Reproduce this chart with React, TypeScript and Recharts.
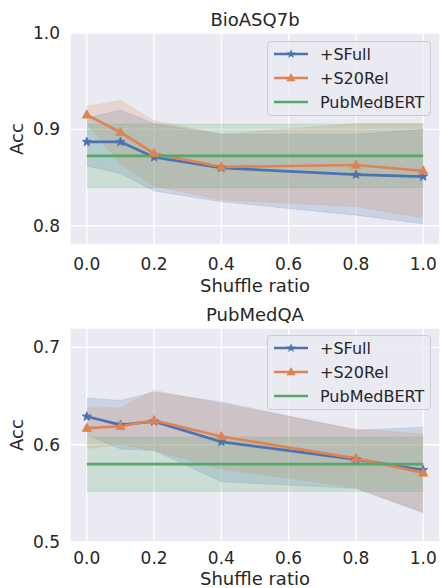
import React from 'react';
import {
  Area,
  CartesianGrid,
  ComposedChart,
  Legend,
  Line,
  XAxis,
  YAxis,
} from 'recharts';

// shuffle ratios on the x axis
const shuffleRatios = [0, 0.1, 0.2, 0.4, 0.8, 1.0];
const xTicks = [0, 0.2, 0.4, 0.6, 0.8, 1.0];

// BioASQ7b
const bioSFullMean = [0.887, 0.887, 0.871, 0.86, 0.853, 0.851];
const bioSFullStd = [0.025, 0.033, 0.035, 0.035, 0.042, 0.049];
const bioS20RelMean = [0.915, 0.897, 0.875, 0.861, 0.863, 0.857];
const bioS20RelStd = [0.009, 0.033, 0.034, 0.034, 0.043, 0.049];
const bioBaseMean = 0.8725;
const bioBaseStd = 0.033;
const bioYTicks = [0.8, 0.9, 1.0];

// PubMedQA
const pqaSFullMean = [0.629, 0.6205, 0.624, 0.603, 0.585, 0.574];
const pqaSFullStd = [0.019, 0.025, 0.03, 0.041, 0.03, 0.044];
const pqaS20RelMean = [0.617, 0.619, 0.625, 0.6085, 0.586, 0.571];
const pqaS20RelStd = [0.021, 0.019, 0.031, 0.0335, 0.03, 0.04];
const pqaBaseMean = 0.58;
const pqaBaseStd = 0.028;
const pqaYTicks = [0.5, 0.6, 0.7];

const BLUE = '#4C72B0';
const ORANGE = '#DD8452';
const GREEN = '#55A868';
const TEXT = '#262626';
const FONT = 'DejaVu Sans';

const buildRows = (
  sMean: number[],
  sStd: number[],
  rMean: number[],
  rStd: number[],
  bMean: number,
  bStd: number,
) =>
  shuffleRatios.map((x, i) => ({
    x,
    sfull: sMean[i],
    sfullBand: [sMean[i] - sStd[i], sMean[i] + sStd[i]],
    s20: rMean[i],
    s20Band: [rMean[i] - rStd[i], rMean[i] + rStd[i]],
    base: bMean,
    baseBand: [bMean - bStd, bMean + bStd],
  }));

const bioRows = buildRows(bioSFullMean, bioSFullStd, bioS20RelMean, bioS20RelStd, bioBaseMean, bioBaseStd);
const pqaRows = buildRows(pqaSFullMean, pqaSFullStd, pqaS20RelMean, pqaS20RelStd, pqaBaseMean, pqaBaseStd);

const starPath = (cx: number, cy: number, ro: number, ri: number) => {
  let d = '';
  for (let k = 0; k < 10; k++) {
    const r = k % 2 === 0 ? ro : ri;
    const a = -Math.PI / 2 + (k * Math.PI) / 5;
    d += (k === 0 ? 'M' : 'L') + (cx + r * Math.cos(a)).toFixed(2) + ',' + (cy + r * Math.sin(a)).toFixed(2);
  }
  return d + 'Z';
};

const StarDot = (props: any) => {
  const { cx, cy, index } = props;
  if (cx == null || cy == null) return <g key={`s${index}`} />;
  return <path key={`s${index}`} d={starPath(cx, cy, 4.8, 2)} fill={BLUE} stroke={BLUE} strokeWidth={0.8} />;
};

const TriDot = (props: any) => {
  const { cx, cy, index } = props;
  if (cx == null || cy == null) return <g key={`t${index}`} />;
  const p = `${cx},${cy - 5} ${cx - 4.6},${cy + 3.2} ${cx + 4.6},${cy + 3.2}`;
  return <polygon key={`t${index}`} points={p} fill={ORANGE} stroke={ORANGE} strokeWidth={0.8} />;
};

const legendItems = [
  { name: '+SFull', color: BLUE, marker: 'star' },
  { name: '+S20Rel', color: ORANGE, marker: 'tri' },
  { name: 'PubMedBERT', color: GREEN, marker: 'none' },
];

const LegendBox = () => (
  <div
    style={{
      width: 164,
      height: 75,
      boxSizing: 'border-box',
      border: '1px solid #cccccc',
      borderRadius: 4,
      background: 'rgba(234,234,242,0.8)',
      fontFamily: FONT,
      fontSize: 16,
      color: TEXT,
    }}
  >
    {legendItems.map((it) => (
      <div key={it.name} style={{ height: 24, display: 'flex', alignItems: 'center' }}>
        <svg width={46} height={16} style={{ marginLeft: 5, flex: 'none' }}>
          <line x1={1} y1={8} x2={35} y2={8} stroke={it.color} strokeWidth={2.7} />
          {it.marker === 'star' && <path d={starPath(18, 8, 4.8, 2)} fill={it.color} />}
          {it.marker === 'tri' && <polygon points="18,3 13.4,11.2 22.6,11.2" fill={it.color} />}
        </svg>
        <span style={{ marginLeft: 1 }}>{it.name}</span>
      </div>
    ))}
  </div>
);

type PanelProps = {
  rows: any[];
  yDomain: [number, number];
  yTicks: number[];
  height: number;
  marginTop: number;
  xAxisHeight: number;
  xTickMargin: number;
  labelOffset: number;
  legendTop: number;
};

const Panel = ({ rows, yDomain, yTicks, height, marginTop, xAxisHeight, xTickMargin, labelOffset, legendTop }: PanelProps) => (
  <ComposedChart width={440} height={height} data={rows} margin={{ top: marginTop, right: 0, bottom: 0, left: 0 }}>
    <CartesianGrid fill="#EAEAF2" stroke="#ffffff" strokeWidth={1.3} />
    <XAxis
      dataKey="x"
      type="number"
      domain={[-0.05, 1.05]}
      ticks={xTicks}
      interval={0}
      allowDataOverflow
      height={xAxisHeight}
      axisLine={false}
      tickLine={false}
      tickMargin={xTickMargin}
      tickFormatter={(v: number) => v.toFixed(1)}
      tick={{ fill: TEXT, fontSize: 17, fontFamily: FONT }}
      label={{
        value: 'Shuffle ratio',
        position: 'insideBottom',
        offset: labelOffset,
        style: { fill: TEXT, fontSize: 18, fontFamily: FONT },
      }}
    />
    <YAxis
      type="number"
      domain={yDomain}
      ticks={yTicks}
      interval={0}
      allowDataOverflow
      width={70}
      axisLine={false}
      tickLine={false}
      tickMargin={4}
      tickFormatter={(v: number) => v.toFixed(1)}
      tick={{ fill: TEXT, fontSize: 17, fontFamily: FONT }}
      label={{
        value: 'Acc',
        angle: -90,
        position: 'insideLeft',
        offset: 17,
        style: { fill: TEXT, fontSize: 18, fontFamily: FONT, textAnchor: 'middle' },
      }}
    />
    <Legend
      layout="vertical"
      align="center"
      verticalAlign="middle"
      wrapperStyle={{ left: 267, top: legendTop, width: 164, height: 75 }}
      content={() => <LegendBox />}
    />
    <Area dataKey="sfullBand" type="linear" fill={BLUE} fillOpacity={0.2} stroke={BLUE} strokeOpacity={0.15} strokeWidth={1} dot={false} activeDot={false} isAnimationActive={false} legendType="none" />
    <Area dataKey="s20Band" type="linear" fill={ORANGE} fillOpacity={0.2} stroke={ORANGE} strokeOpacity={0.15} strokeWidth={1} dot={false} activeDot={false} isAnimationActive={false} legendType="none" />
    <Area dataKey="baseBand" type="linear" fill={GREEN} fillOpacity={0.2} stroke={GREEN} strokeOpacity={0.15} strokeWidth={1} dot={false} activeDot={false} isAnimationActive={false} legendType="none" />
    <Line dataKey="sfull" name="+SFull" type="linear" stroke={BLUE} strokeWidth={2.7} dot={StarDot} activeDot={false} isAnimationActive={false} />
    <Line dataKey="s20" name="+S20Rel" type="linear" stroke={ORANGE} strokeWidth={2.7} dot={TriDot} activeDot={false} isAnimationActive={false} />
    <Line dataKey="base" name="PubMedBERT" type="linear" stroke={GREEN} strokeWidth={2.7} dot={false} activeDot={false} isAnimationActive={false} />
  </ComposedChart>
);

const titleStyle: React.CSSProperties = {
  position: 'absolute',
  left: 70,
  width: 370,
  textAlign: 'center',
  fontFamily: FONT,
  fontSize: 18,
  lineHeight: '18px',
  color: TEXT,
};

export default function App() {
  return (
    <div style={{ position: 'absolute', left: 0, top: 0, width: 440, height: 588, background: '#ffffff', overflow: 'hidden' }}>
      <div style={{ ...titleStyle, top: 11 }}>BioASQ7b</div>
      <div style={{ position: 'absolute', left: 0, top: 0 }}>
        <Panel rows={bioRows} yDomain={[0.78, 1.0]} yTicks={bioYTicks} height={297} marginTop={33} xAxisHeight={52} xTickMargin={7} labelOffset={5} legendTop={41} />
      </div>
      <div style={{ ...titleStyle, top: 306 }}>PubMedQA</div>
      <div style={{ position: 'absolute', left: 0, top: 297 }}>
        <Panel rows={pqaRows} yDomain={[0.5, 0.72]} yTicks={pqaYTicks} height={291} marginTop={31} xAxisHeight={46} xTickMargin={4} labelOffset={3} legendTop={38} />
      </div>
    </div>
  );
}
